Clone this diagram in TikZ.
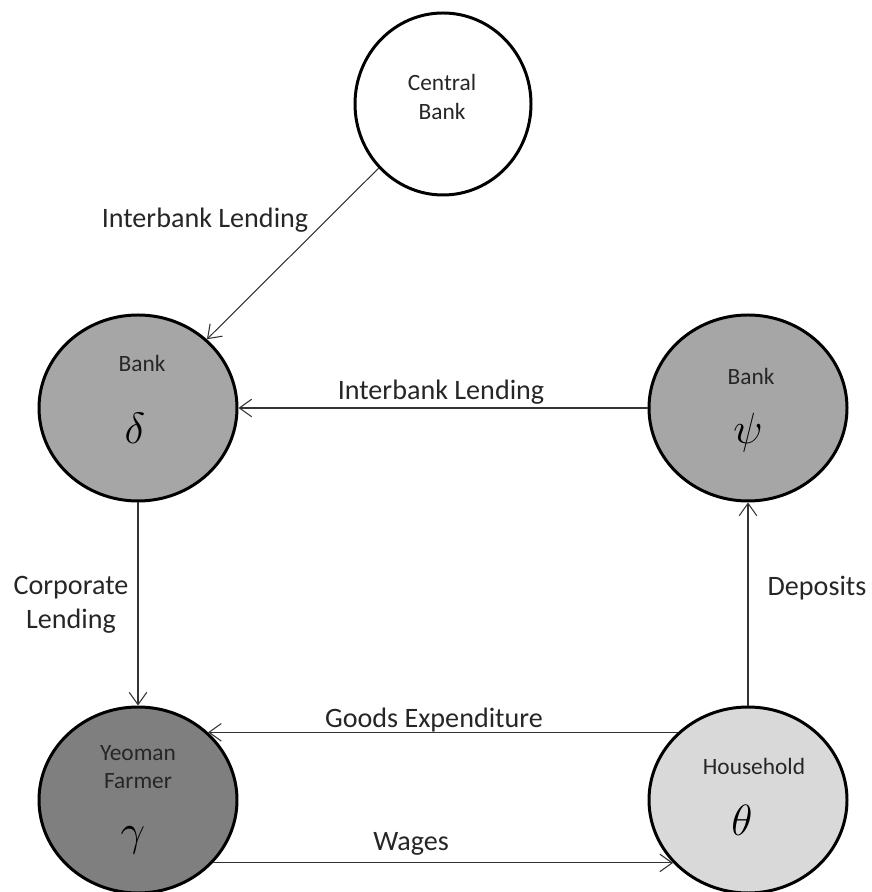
\documentclass[tikz,border=0pt]{standalone}
\usepackage{fontspec}
\setmainfont{Carlito}
\usetikzlibrary{arrows.meta,shapes.geometric}

\definecolor{bankfill}{HTML}{A6A6A6}
\definecolor{farmfill}{HTML}{7F7F7F}
\definecolor{homefill}{HTML}{D9D9D9}

\tikzset{
  agent/.style={ellipse,draw=black,line width=1.7pt,inner sep=0pt,
    minimum width=3.96cm,minimum height=3.72cm},
  flow/.style={draw=black!80,line width=0.6pt,-{Straight Barb[length=7pt,width=10pt]}},
  flowlabel/.style={font=\fontsize{16}{19.3}\selectfont,text=black!85,inner sep=0pt,align=center},
  agentname/.style={font=\fontsize{13.3}{16.4}\selectfont,text=black!85,inner sep=0pt,align=center},
  agentsym/.style={font=\fontsize{24}{28}\selectfont,inner sep=0pt}
}

\begin{document}
\begin{tikzpicture}
  \useasboundingbox (0,0) rectangle (17.44,17.84);

  % the five agents
  \node[agent,fill=white,minimum width=3.52cm,minimum height=3.64cm] (cb) at (8.86,15.76) {};
  \node[agent,fill=bankfill] (bd) at (2.76,9.68) {};
  \node[agent,fill=bankfill] (bp) at (14.96,9.68) {};
  \node[agent,fill=farmfill] (yf) at (2.76,1.84) {};
  \node[agent,fill=homefill] (hh) at (14.96,1.84) {};

  \node[agentname] (cbname) at (8.84,15.90) {Central\\Bank};
  \node[agentname] (bdname) at (2.84,10.58) {Bank};
  \node[agentsym] (bdsym) at (2.70,9.28) {$\delta$};
  \node[agentname] (bpname) at (15.02,10.32) {Bank};
  \node[agentsym] (bpsym) at (14.96,9.18) {$\psi$};
  \node[agentname] (yfname) at (2.76,2.50) {Yeoman\\Farmer};
  \node[agentsym] (yfsym) at (2.66,1.04) {$\gamma$};
  \node[agentname] (hhname) at (15.08,2.52) {Household};
  \node[agentsym] (hhsym) at (14.84,1.44) {$\theta$};

  % flows between them
  \draw[flow] (cb) -- (bd);
  \draw[flow] (bp) -- (bd);
  \draw[flow] (bd) -- (yf);
  \draw[flow] (hh) -- (bp);
  \draw[flow] (hh.136) -- (yf.44);
  \draw[flow] (yf.-40) -- (hh.220);

  \node[flowlabel,anchor=base] (lendcb) at (4.10,13.28) {Interbank Lending};
  \node[flowlabel,anchor=base] (lendbp) at (8.82,9.84) {Interbank Lending};
  \node[flowlabel] (lendcorp) at (1.42,5.75) {Corporate\\Lending};
  \node[flowlabel,anchor=base] (depo) at (16.34,5.92) {Deposits};
  \node[flowlabel,anchor=base] (goods) at (8.68,3.28) {Goods Expenditure};
  \node[flowlabel,anchor=base] (wages) at (8.22,0.82) {Wages};
\end{tikzpicture}
\end{document}
